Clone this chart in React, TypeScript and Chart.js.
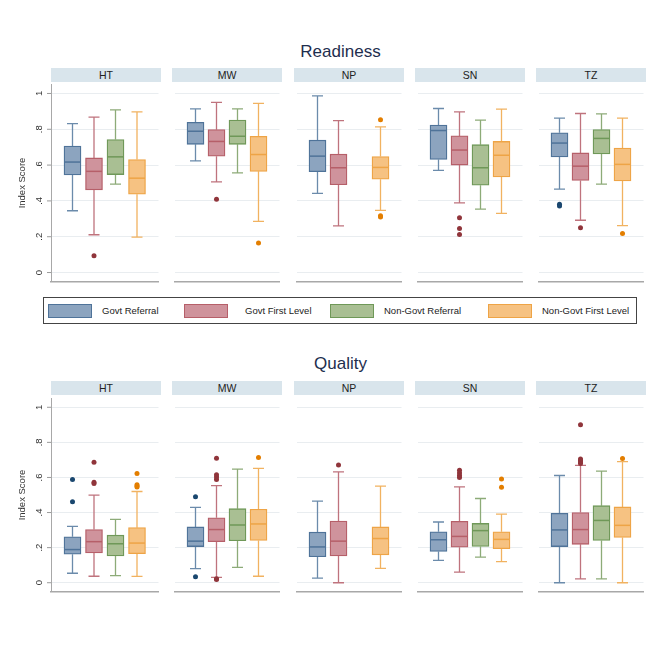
import React, { useEffect, useRef } from 'react';
import { Chart, registerables } from 'chart.js';

Chart.register(...registerables);

const FONT = '"Liberation Sans", Arial, Helvetica, sans-serif';
Chart.defaults.font.family = FONT;

// ---------- data ----------
const groups = ['Govt Referral', 'Govt First Level', 'Non-Govt Referral', 'Non-Govt First Level'];
const facets = ['HT', 'MW', 'NP', 'SN', 'TZ'];
const yTickValues = [0, 0.2, 0.4, 0.6, 0.8, 1];
const yTickLabels = ['0', '.2', '.4', '.6', '.8', '1'];

// [lower whisker, Q1, median, Q3, upper whisker] per group
const readinessHT = [[0.345, 0.545, 0.617, 0.706, 0.831], [0.211, 0.462, 0.565, 0.640, 0.868], [0.494, 0.547, 0.646, 0.743, 0.908], [0.198, 0.437, 0.527, 0.631, 0.897]];
const readinessMW = [[0.624, 0.716, 0.789, 0.839, 0.914], [0.506, 0.650, 0.732, 0.798, 0.950], [0.556, 0.716, 0.761, 0.851, 0.914], [0.286, 0.565, 0.659, 0.761, 0.945]];
const readinessNP = [[0.442, 0.563, 0.650, 0.739, 0.987], [0.261, 0.490, 0.585, 0.661, 0.848], null, [0.347, 0.521, 0.587, 0.648, 0.813]];
const readinessSN = [[0.571, 0.631, 0.793, 0.824, 0.916], [0.389, 0.600, 0.684, 0.763, 0.897], [0.354, 0.488, 0.585, 0.714, 0.851], [0.330, 0.534, 0.655, 0.732, 0.912]];
const readinessTZ = [[0.466, 0.646, 0.723, 0.780, 0.862], [0.292, 0.514, 0.594, 0.668, 0.888], [0.494, 0.662, 0.749, 0.798, 0.886], [0.262, 0.512, 0.604, 0.695, 0.862]];

const readinessOutHT = [[], [0.094], [], []];
const readinessOutMW = [[], [0.409], [], [0.165]];
const readinessOutNP = [[], [], [], [0.853, 0.317, 0.310]];
const readinessOutSN = [[], [0.306, 0.246, 0.213], [], []];
const readinessOutTZ = [[0.382, 0.371], [0.250], [], [0.218]];

const qualityHT = [[0.054, 0.163, 0.189, 0.262, 0.321], [0.037, 0.170, 0.234, 0.303, 0.499], [0.041, 0.153, 0.222, 0.271, 0.361], [0.036, 0.166, 0.226, 0.314, 0.520]];
const qualityMW = [[0.080, 0.206, 0.237, 0.318, 0.430], [0.030, 0.234, 0.303, 0.370, 0.553], [0.088, 0.239, 0.329, 0.422, 0.647], [0.037, 0.241, 0.335, 0.419, 0.652]];
const qualityNP = [[0.026, 0.148, 0.204, 0.288, 0.465], [0.0, 0.153, 0.237, 0.351, 0.632], null, [0.082, 0.159, 0.252, 0.318, 0.551]];
const qualitySN = [[0.127, 0.178, 0.245, 0.290, 0.346], [0.060, 0.202, 0.264, 0.350, 0.546], [0.146, 0.207, 0.297, 0.338, 0.480], [0.120, 0.194, 0.247, 0.290, 0.391]];
const qualityTZ = [[0.0, 0.206, 0.301, 0.396, 0.611], [0.022, 0.219, 0.303, 0.400, 0.669], [0.022, 0.241, 0.355, 0.439, 0.636], [0.0, 0.258, 0.327, 0.432, 0.690]];

const qualityOutHT = [[0.589, 0.462], [0.686, 0.572, 0.566], [], [0.622, 0.559, 0.551, 0.546]];
const qualityOutMW = [[0.490, 0.034], [0.710, 0.615, 0.602, 0.589, 0.022, 0.018], [], [0.714]];
const qualityOutNP = [[], [0.671], [], []];
const qualityOutSN = [[], [0.641, 0.626, 0.611, 0.600], [], [0.591, 0.544]];
const qualityOutTZ = [[], [0.901, 0.705, 0.697, 0.688, 0.679], [], [0.708]];

// ---------- styles ----------
const fillColors = ['#8ca4bf', '#cf939c', '#a9bf93', '#f6c282'];
const lineColors = ['#4f7399', '#b65f69', '#6f9858', '#eea446'];
const whiskerColors = ['#6b8bab', '#bf737d', '#8dab78', '#f1b260'];
const dotColors = ['#1a476f', '#90353b', '#55752f', '#e37e00'];

const facetLefts = [51, 172, 294, 415, 536];
const facetWidth = 110;

const panels = [
  {
    title: 'Readiness',
    stats: [readinessHT, readinessMW, readinessNP, readinessSN, readinessTZ],
    outliers: [readinessOutHT, readinessOutMW, readinessOutNP, readinessOutSN, readinessOutTZ],
    titleTop: 43, stripTop: 68, stripH: 14, plotTop: 82, plotH: 200,
  },
  {
    title: 'Quality',
    stats: [qualityHT, qualityMW, qualityNP, qualitySN, qualityTZ],
    outliers: [qualityOutHT, qualityOutMW, qualityOutNP, qualityOutSN, qualityOutTZ],
    titleTop: 355, stripTop: 381, stripH: 14, plotTop: 396, plotH: 196,
  },
];

type Stat = number[] | null;

function Facet(props: { stats: Stat[]; outliers: number[][]; left: number; top: number; height: number; showY: boolean }) {
  const { stats, outliers, left, top, height, showY } = props;
  const ref = useRef<HTMLCanvasElement>(null);

  useEffect(() => {
    const canvas = ref.current!;
    const boxes: any[] = [];
    stats.forEach((s, g) => {
      if (s) boxes.push({ x: g + 1, y: [s[1], s[3]], g });
    });
    const dots: any[] = [];
    outliers.forEach((arr, g) => arr.forEach((v) => dots.push({ x: g + 1, y: v, g })));

    const boxW = 17;
    const capHalf = 5.5;

    const boxParts = {
      id: 'boxParts',
      beforeDatasetsDraw(chart: any) {
        const { ctx } = chart;
        const xs = chart.scales.x;
        const ys = chart.scales.y;
        ctx.save();
        stats.forEach((s, g) => {
          if (!s) return;
          const cx = xs.getPixelForValue(g + 1);
          const pMin = ys.getPixelForValue(s[0]);
          const pQ1 = ys.getPixelForValue(s[1]);
          const pQ3 = ys.getPixelForValue(s[3]);
          const pMax = ys.getPixelForValue(s[4]);
          ctx.strokeStyle = whiskerColors[g];
          ctx.lineWidth = 1.3;
          ctx.beginPath();
          ctx.moveTo(cx, pMin); ctx.lineTo(cx, pQ1);
          ctx.moveTo(cx, pQ3); ctx.lineTo(cx, pMax);
          ctx.moveTo(cx - capHalf, pMin); ctx.lineTo(cx + capHalf, pMin);
          ctx.moveTo(cx - capHalf, pMax); ctx.lineTo(cx + capHalf, pMax);
          ctx.stroke();
        });
        ctx.restore();
      },
      afterDatasetsDraw(chart: any) {
        const { ctx } = chart;
        const xs = chart.scales.x;
        const ys = chart.scales.y;
        ctx.save();
        stats.forEach((s, g) => {
          if (!s) return;
          const cx = xs.getPixelForValue(g + 1);
          const pMed = ys.getPixelForValue(s[2]);
          ctx.strokeStyle = lineColors[g];
          ctx.lineWidth = 1.5;
          ctx.beginPath();
          ctx.moveTo(cx - boxW / 2 + 0.5, pMed);
          ctx.lineTo(cx + boxW / 2 - 0.5, pMed);
          ctx.stroke();
        });
        ctx.restore();
      },
      afterDraw(chart: any) {
        if (!showY) return;
        const { ctx, chartArea } = chart;
        const ys = chart.scales.y;
        ctx.save();
        ctx.font = `9.5px ${FONT}`;
        ctx.fillStyle = '#333';
        ctx.strokeStyle = '#9a9a9a';
        ctx.lineWidth = 1;
        yTickValues.forEach((v, i) => {
          const y = ys.getPixelForValue(v);
          ctx.beginPath();
          ctx.moveTo(chartArea.left - 4, y);
          ctx.lineTo(chartArea.left, y);
          ctx.stroke();
          ctx.save();
          ctx.translate(chartArea.left - 11.5, y);
          ctx.rotate(-Math.PI / 2);
          ctx.textAlign = 'center';
          ctx.textBaseline = 'middle';
          ctx.fillText(yTickLabels[i], 0, 0);
          ctx.restore();
        });
        ctx.restore();
      },
    };

    const chart = new Chart(canvas, {
      type: 'bar',
      data: {
        datasets: [
          {
            type: 'scatter',
            data: dots,
            pointRadius: 2.5,
            pointHoverRadius: 2.5,
            pointBorderWidth: 0,
            pointBackgroundColor: (c: any) => dotColors[c.raw ? c.raw.g : 0],
            order: 1,
          } as any,
          {
            type: 'bar',
            data: boxes,
            backgroundColor: (c: any) => fillColors[c.raw ? c.raw.g : 0],
            borderColor: (c: any) => lineColors[c.raw ? c.raw.g : 0],
            borderWidth: 1.3,
            borderSkipped: false,
            barThickness: boxW,
            order: 2,
          } as any,
        ],
      },
      options: {
        animation: false,
        responsive: true,
        maintainAspectRatio: false,
        events: [],
        layout: { padding: { left: 0, right: 0, top: 0, bottom: 2 } },
        plugins: { legend: { display: false }, tooltip: { enabled: false } },
        scales: {
          x: {
            type: 'linear',
            min: 0,
            max: 5,
            offset: false,
            ticks: { display: false },
            grid: { display: false, drawTicks: false },
            border: { display: true, color: '#a8a8a8', width: 1.5 },
            afterFit: (s: any) => { s.height = 0; },
          },
          y: {
            type: 'linear',
            min: -0.05,
            max: 1.05,
            ticks: { display: false, stepSize: 0.2, includeBounds: false },
            grid: { color: '#e9edf0', lineWidth: 1, drawTicks: false },
            border: { display: showY, color: '#a8a8a8', width: 1 },
            title: {
              display: showY,
              text: 'Index Score',
              color: '#333',
              font: { size: 9.5, family: FONT },
              padding: { top: 17, bottom: 0 },
            },
            afterFit: (s: any) => { s.width = showY ? left : 0; },
          },
        },
      } as any,
      plugins: [boxParts],
    });
    return () => chart.destroy();
  }, []);

  const cLeft = showY ? 0 : left;
  const cWidth = showY ? left + facetWidth : facetWidth;
  return (
    <div style={{ position: 'absolute', left: cLeft, top, width: cWidth, height: height + 2 }}>
      <canvas ref={ref} />
    </div>
  );
}

function Panel({ p }: { p: typeof panels[number] }) {
  return (
    <>
      <div
        style={{
          position: 'absolute', left: 0, top: p.titleTop, width: 681, textAlign: 'center',
          fontSize: 17, lineHeight: '17px', color: '#1e2e4e', fontFamily: FONT,
        }}
      >
        {p.title}
      </div>
      {facets.map((f, i) => (
        <div
          key={f}
          style={{
            position: 'absolute', left: facetLefts[i], top: p.stripTop, width: facetWidth, height: p.stripH,
            background: '#d9e5ec', textAlign: 'center', fontSize: 10.5, lineHeight: `${p.stripH}px`,
            color: '#222', fontFamily: FONT,
          }}
        >
          {f}
        </div>
      ))}
      {facets.map((f, i) => (
        <Facet
          key={'c' + f}
          stats={p.stats[i]}
          outliers={p.outliers[i]}
          left={facetLefts[i]}
          top={p.plotTop}
          height={p.plotH}
          showY={i === 0}
        />
      ))}
    </>
  );
}

const legendSwatchX = [48, 184, 330, 488];
const legendTextX = [102, 245, 384, 542];

export default function App() {
  return (
    <div style={{ position: 'absolute', left: 0, top: 0, width: 669, height: 659, background: '#fff', overflow: 'hidden', fontFamily: FONT }}>
      {panels.map((p) => <Panel key={p.title} p={p} />)}
      <div
        style={{
          position: 'absolute', left: 43, top: 297, width: 594, height: 27,
          border: '1px solid #444', boxSizing: 'border-box',
        }}
      />
      {groups.map((g, i) => (
        <React.Fragment key={g}>
          <div
            style={{
              position: 'absolute', left: legendSwatchX[i], top: 304, width: 44, height: 14,
              background: fillColors[i], border: `1px solid ${lineColors[i]}`, boxSizing: 'border-box',
            }}
          />
          <div
            style={{
              position: 'absolute', left: legendTextX[i], top: 304, height: 14, lineHeight: '14px',
              fontSize: 9.5, color: '#222', whiteSpace: 'nowrap',
            }}
          >
            {g}
          </div>
        </React.Fragment>
      ))}
    </div>
  );
}
